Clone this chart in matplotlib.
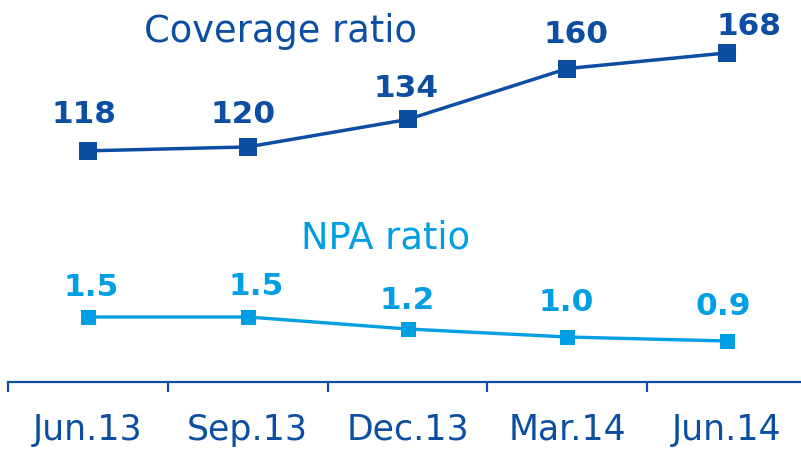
import matplotlib
matplotlib.use("Agg")
import matplotlib.pyplot as plt
import numpy as np

# data
quarters = ["Jun.13", "Sep.13", "Dec.13", "Mar.14", "Jun.14"]
coverage = [118, 120, 134, 160, 168]
npa = [1.5, 1.5, 1.2, 1.0, 0.9]
coverage_labels = ["118", "120", "134", "160", "168"]
npa_labels = ["1.5", "1.5", "1.2", "1.0", "0.9"]

dark_blue = "#0B4EA2"
light_blue = "#009FE3"

# label offsets in pixels (dx, dy of the baseline above the marker)
cov_off = [(-4, 28), (-5, 24), (-1, 22), (9, 26), (22, 18)]
npa_off = [(3, 21), (8, 22), (0, 20), (-1, 26), (-4, 26)]

fig = plt.figure(figsize=(8.01, 4.51), dpi=100)
rect = [8 / 801, 69 / 451, 799 / 801, 382 / 451]
ax = fig.add_axes(rect)
ax2 = fig.add_axes(rect, sharex=ax)
ax2.patch.set_alpha(0)

x = np.arange(len(quarters))

ax.plot(x, coverage, color=dark_blue, lw=2.5, marker="s", ms=13.5,
        markeredgewidth=0, zorder=3)
ax2.plot(x, npa, color=light_blue, lw=2.4, marker="s", ms=10.8,
         markeredgewidth=0, zorder=3)

ax.set_ylim(0, 195)
ax2.set_ylim(-0.125, 9.425)
ax.set_xlim(-0.5, 4.5)

for i, (v, lab) in enumerate(zip(coverage, coverage_labels)):
    dx, dy = cov_off[i]
    ax.annotate(lab, (x[i], v), xytext=(dx, dy), textcoords="offset pixels",
                ha="center", va="baseline", fontsize=22.5, fontweight="bold",
                color=dark_blue)

for i, (v, lab) in enumerate(zip(npa, npa_labels)):
    dx, dy = npa_off[i]
    ax2.annotate(lab, (x[i], v), xytext=(dx, dy), textcoords="offset pixels",
                 ha="center", va="baseline", fontsize=22.5, fontweight="bold",
                 color=light_blue)

fig.text(280 / 801, 1 - 42 / 451, "Coverage ratio", ha="center", va="baseline",
         fontsize=26.5, color=dark_blue)
fig.text(386 / 801, 1 - 248 / 451, "NPA ratio", ha="center", va="baseline",
         fontsize=26.5, color=light_blue)

for a in (ax, ax2):
    for s in ["top", "right", "left"]:
        a.spines[s].set_visible(False)
    a.set_yticks([])
ax2.spines["bottom"].set_visible(False)
ax2.tick_params(axis="x", which="both", bottom=False, labelbottom=False)

ax.spines["bottom"].set_color(dark_blue)
ax.spines["bottom"].set_linewidth(1.6)
ax.set_xticks(x)
ax.set_xticklabels(quarters)
ax.set_xticks(np.arange(-0.5, 4.6, 1.0), minor=True)
ax.tick_params(axis="x", which="major", length=0, pad=22, labelsize=25,
               labelcolor=dark_blue)
ax.tick_params(axis="x", which="minor", length=7, width=1.6, color=dark_blue,
               direction="out")

fig.savefig("out.png", dpi=100)
